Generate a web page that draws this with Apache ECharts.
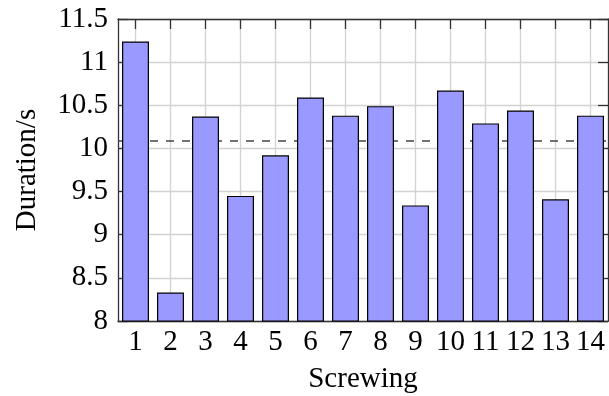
<!DOCTYPE html>
<html><head><meta charset="utf-8">
<script src="https://cdn.jsdelivr.net/npm/echarts@6/dist/echarts.min.js"></script>
<style>html,body{margin:0;padding:0;background:#fff}#c{width:609px;height:396px}</style>
</head><body><div id="c"></div>
<script>
const categories = ['1','2','3','4','5','6','7','8','9','10','11','12','13','14'];
const durations = [11.24, 8.33, 10.37, 9.45, 9.92, 10.59, 10.38, 10.49, 9.34, 10.67, 10.29, 10.44, 9.41, 10.38];
const meanDuration = [10.09];
const yTicks = { min: 8, max: 11.5, interval: 0.5 };

const font = '"Liberation Serif", "Times New Roman", serif';
const fs = 29;
const axisColor = '#333';
const gridColor = '#d2d2d2';
const chart = echarts.init(document.getElementById('c'));
chart.setOption({
  animation: false,
  grid: { left: 118, right: 1, top: 19, bottom: 75, containLabel: false, outerBoundsMode: 'none' },
  xAxis: [{
    type: 'category', data: categories, position: 'bottom',
    name: 'Screwing', nameLocation: 'middle', nameGap: 44,
    nameTextStyle: { fontFamily: font, fontSize: fs, color: '#000' },
    axisLine: { lineStyle: { color: axisColor, width: 1.3 } },
    axisTick: { show: true, inside: true, length: 10, alignWithLabel: true, lineStyle: { color: axisColor, width: 1.3 } },
    axisLabel: { fontFamily: font, fontSize: fs, color: '#000', margin: 7, interval: 0 },
    splitLine: { show: true, alignWithLabel: true, lineStyle: { color: gridColor, width: 1.3 } }
  }, {
    type: 'category', data: categories, position: 'top',
    axisLine: { lineStyle: { color: axisColor, width: 1.3 } },
    axisTick: { show: true, inside: true, length: 10, alignWithLabel: true, lineStyle: { color: axisColor, width: 1.3 } },
    axisLabel: { show: false },
    splitLine: { show: false }
  }],
  yAxis: [{
    type: 'value', position: 'left', min: yTicks.min, max: yTicks.max, interval: yTicks.interval,
    name: 'Duration/s', nameLocation: 'middle', nameGap: 76,
    nameTextStyle: { fontFamily: font, fontSize: fs, color: '#000' },
    axisLine: { show: true, lineStyle: { color: axisColor, width: 1.3 } },
    axisTick: { show: true, inside: true, length: 10, lineStyle: { color: axisColor, width: 1.3 } },
    axisLabel: { fontFamily: font, fontSize: fs, color: '#000', margin: 10 },
    splitLine: { show: true, lineStyle: { color: gridColor, width: 1.3 } }
  }, {
    type: 'value', position: 'right', min: yTicks.min, max: yTicks.max, interval: yTicks.interval,
    axisLine: { show: true, lineStyle: { color: axisColor, width: 1.3 } },
    axisTick: { show: true, inside: true, length: 10, lineStyle: { color: axisColor, width: 1.3 } },
    axisLabel: { show: false },
    splitLine: { show: false }
  }],
  series: [{
    type: 'bar', data: durations, xAxisIndex: 0, yAxisIndex: 0,
    barCategoryGap: '23%', z: 3,
    itemStyle: { color: '#9999ff', borderColor: '#000', borderWidth: 1.2 },
    markLine: {
      z: 1, silent: true, symbol: 'none', label: { show: false },
      lineStyle: { type: [8, 8], color: '#444', width: 1.5 },
      data: [{ yAxis: meanDuration[0] }]
    }
  }]
});
</script></body></html>
